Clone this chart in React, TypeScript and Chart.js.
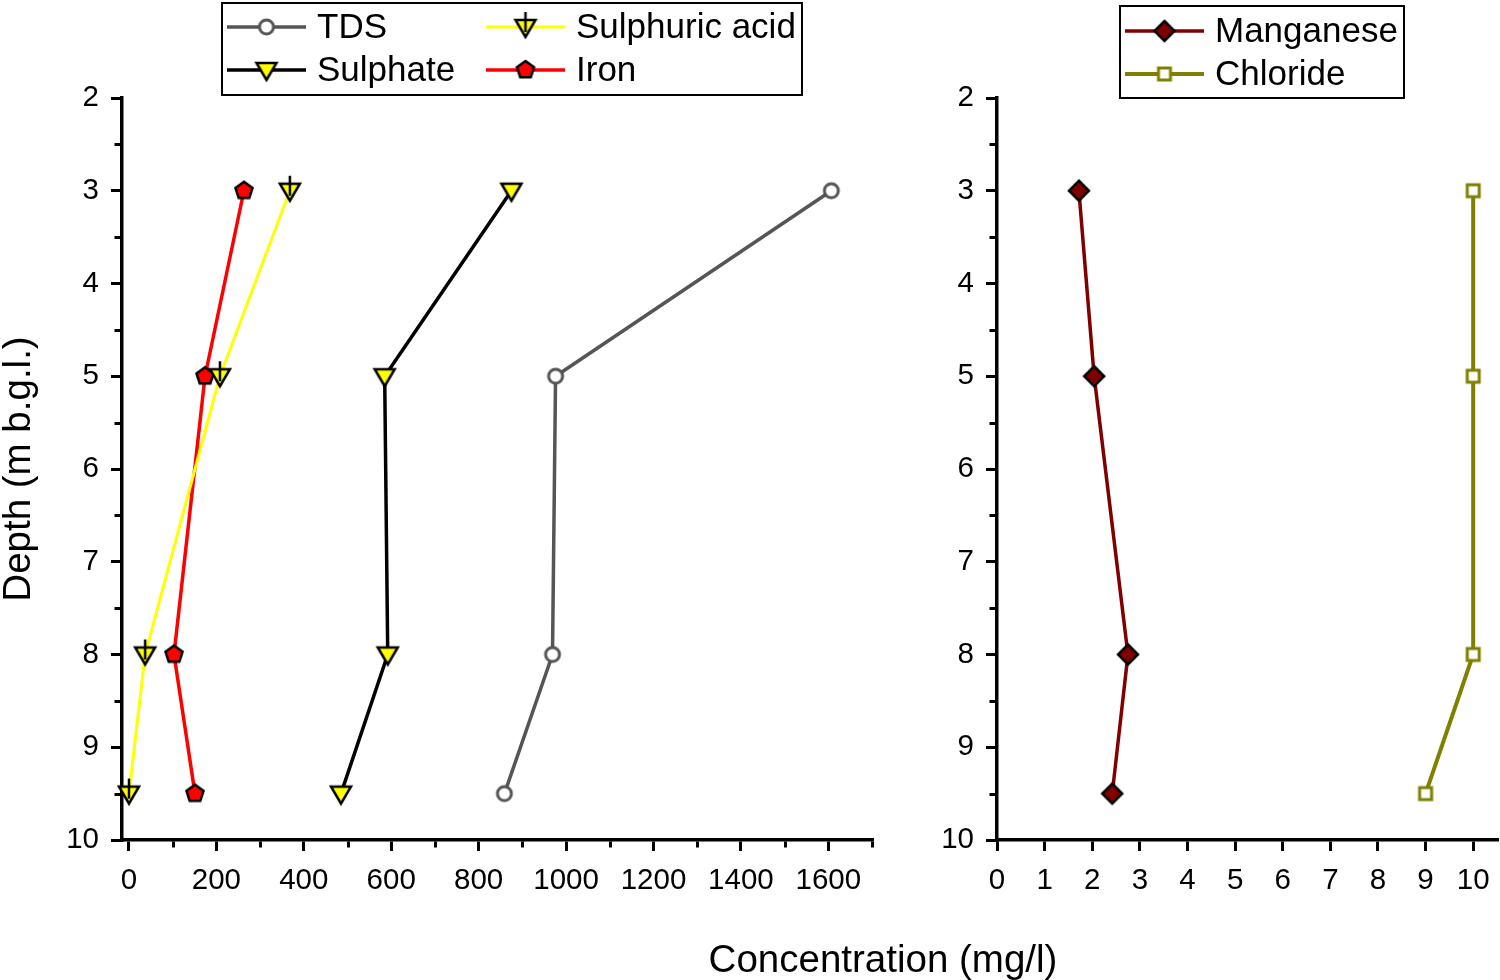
import { useEffect, useRef } from 'react';
import Chart from 'chart.js/auto';

const FONT = '"Liberation Sans", Arial, Helvetica, sans-serif';
Chart.defaults.font.family = FONT;
Chart.defaults.color = '#000';

// sample depths (m b.g.l.), shared by every series
const depths = [3, 5, 8, 9.5];

// left panel (mg/l)
const tds = [1607, 976, 969, 859];
const sulphate = [875, 585, 592, 485];
const sulphuricAcid = [368, 208, 37, 0];
const iron = [263, 174, 103, 151];

// right panel (mg/l)
const manganese = [1.72, 2.04, 2.75, 2.42];
const chloride = [10, 10, 10, 9];

// axis ticks
const depthTicks = [2, 3, 4, 5, 6, 7, 8, 9, 10];
const depthMinor = [2.5, 3.5, 4.5, 5.5, 6.5, 7.5, 8.5, 9.5];
const leftTicks = [0, 200, 400, 600, 800, 1000, 1200, 1400, 1600];
const leftMinor = [100, 300, 500, 700, 900, 1100, 1300, 1500, 1700];
const rightTicks = [0, 1, 2, 3, 4, 5, 6, 7, 8, 9, 10];

type Shape = 'circle' | 'triDown' | 'arrowDown' | 'pentagon' | 'diamond' | 'square';

// little offscreen canvases used as point styles and in the legends
function marker(shape: Shape, fill: string, stroke: string, lw: number): HTMLCanvasElement {
  const size = 34;
  const c = document.createElement('canvas');
  c.width = size;
  c.height = size;
  const ctx = c.getContext('2d')!;
  ctx.translate(size / 2, size / 2);
  ctx.fillStyle = fill;
  ctx.strokeStyle = stroke;
  ctx.lineWidth = lw;
  ctx.beginPath();
  if (shape === 'circle') {
    ctx.arc(0, 0, 7, 0, Math.PI * 2);
  } else if (shape === 'triDown' || shape === 'arrowDown') {
    ctx.moveTo(-10, -7);
    ctx.lineTo(10, -7);
    ctx.lineTo(0, 10);
    ctx.closePath();
  } else if (shape === 'pentagon') {
    for (let i = 0; i < 5; i++) {
      const a = -Math.PI / 2 + (i * 2 * Math.PI) / 5;
      ctx.lineTo(9 * Math.cos(a), 9 * Math.sin(a));
    }
    ctx.closePath();
  } else if (shape === 'diamond') {
    ctx.moveTo(0, -10);
    ctx.lineTo(10, 0);
    ctx.lineTo(0, 10);
    ctx.lineTo(-10, 0);
    ctx.closePath();
  } else {
    ctx.rect(-6, -6, 12, 12);
  }
  ctx.fill();
  ctx.stroke();
  if (shape === 'arrowDown') {
    ctx.beginPath();
    ctx.moveTo(0, -15);
    ctx.lineTo(0, 5);
    ctx.stroke();
  }
  return c;
}

interface Series {
  label: string;
  values: number[];
  color: string;
  width: number;
  point: HTMLCanvasElement;
}

interface LegendEntry {
  series: Series;
  x: number;
  y: number;
}

interface LegendBox {
  x: number;
  y: number;
  w: number;
  h: number;
  entries: LegendEntry[];
}

function boxLegend(box: LegendBox) {
  return {
    id: 'boxLegend',
    afterDraw(chart: Chart) {
      const ctx = chart.ctx;
      ctx.save();
      ctx.strokeStyle = '#000';
      ctx.lineWidth = 2;
      ctx.strokeRect(box.x, box.y, box.w, box.h);
      ctx.font = `35px ${FONT}`;
      ctx.textBaseline = 'middle';
      ctx.fillStyle = '#000';
      for (const e of box.entries) {
        ctx.strokeStyle = e.series.color;
        ctx.lineWidth = e.series.width;
        ctx.beginPath();
        ctx.moveTo(e.x, e.y);
        ctx.lineTo(e.x + 79, e.y);
        ctx.stroke();
        const p = e.series.point;
        ctx.drawImage(p, e.x + 39.5 - p.width / 2, e.y - p.height / 2);
        ctx.fillText(e.series.label, e.x + 90, e.y + 1);
      }
      ctx.restore();
    },
  };
}

// Chart.js has no minor ticks, so draw the short ones here
function minorTicks(xMinor: number[], yMinor: number[]) {
  return {
    id: 'minorTicks',
    afterDraw(chart: Chart) {
      const { ctx, chartArea } = chart;
      const xs = chart.scales.x;
      const ys = chart.scales.y;
      ctx.save();
      ctx.strokeStyle = '#000';
      ctx.lineWidth = 3;
      ctx.beginPath();
      for (const v of xMinor) {
        const px = Math.round(xs.getPixelForValue(v)) + 0.5;
        ctx.moveTo(px, chartArea.bottom + 1.5);
        ctx.lineTo(px, chartArea.bottom + 7.5);
      }
      for (const v of yMinor) {
        const py = Math.round(ys.getPixelForValue(v)) + 0.5;
        ctx.moveTo(chartArea.left - 1.5, py);
        ctx.lineTo(chartArea.left - 7.5, py);
      }
      ctx.stroke();
      ctx.restore();
    },
  };
}

interface PanelProps {
  left: number;
  width: number;
  yAxisWidth: number;
  rightPad: number;
  xMin: number;
  xMax: number;
  xTicks: number[];
  xMinor: number[];
  yTitle?: string;
  series: Series[];
  legend: LegendBox;
}

function Panel(props: PanelProps) {
  const canvasRef = useRef<HTMLCanvasElement>(null);

  useEffect(() => {
    const canvas = canvasRef.current;
    if (!canvas) return;
    const p = props;
    const axisGrid = {
      display: true,
      drawOnChartArea: false,
      drawTicks: true,
      tickLength: 11,
      lineWidth: 3,
      color: '#000',
    };
    const axisBorder = { display: true, width: 3.5, color: '#000' };
    const chart = new Chart(canvas, {
      type: 'scatter',
      data: {
        datasets: p.series.map((s) => ({
          label: s.label,
          data: depths.map((d, i) => ({ x: s.values[i], y: d })),
          showLine: true,
          borderColor: s.color,
          backgroundColor: s.color,
          borderWidth: s.width,
          pointStyle: s.point,
          pointRadius: 9,
          pointHoverRadius: 9,
          clip: false,
        })),
      },
      options: {
        animation: false,
        responsive: false,
        events: [],
        layout: {
          autoPadding: false,
          padding: { top: 98, right: p.rightPad, bottom: 80, left: 0 },
        },
        plugins: { legend: { display: false }, tooltip: { enabled: false } },
        scales: {
          x: {
            type: 'linear',
            min: p.xMin,
            max: p.xMax,
            afterBuildTicks: (s: any) => {
              s.ticks = p.xTicks.map((v) => ({ value: v }));
            },
            afterFit: (s: any) => {
              s.height = 60;
              s.paddingLeft = 0;
              s.paddingRight = 0;
            },
            grid: axisGrid,
            border: axisBorder,
            ticks: {
              font: { size: 29.5 },
              color: '#000',
              padding: 12,
              maxRotation: 0,
              autoSkip: false,
              callback: (v: any) => String(v),
            },
          },
          y: {
            type: 'linear',
            reverse: true,
            min: 2,
            max: 10,
            afterBuildTicks: (s: any) => {
              s.ticks = depthTicks.map((v) => ({ value: v }));
            },
            afterFit: (s: any) => {
              s.width = p.yAxisWidth;
            },
            grid: axisGrid,
            border: axisBorder,
            title: p.yTitle
              ? {
                  display: true,
                  text: p.yTitle,
                  font: { size: 38.5, lineHeight: 1 },
                  color: '#000',
                  padding: 0,
                }
              : { display: false },
            ticks: {
              font: { size: 29.5 },
              color: '#000',
              padding: 12,
              autoSkip: false,
              callback: (v: any) => String(v),
            },
          },
        },
      },
      plugins: [minorTicks(p.xMinor, depthMinor), boxLegend(p.legend)],
    } as any);
    return () => chart.destroy();
    // eslint-disable-next-line react-hooks/exhaustive-deps
  }, []);

  return (
    <canvas
      ref={canvasRef}
      width={props.width}
      height={980}
      style={{ position: 'absolute', left: props.left, top: 0 }}
    />
  );
}

const tdsSeries: Series = { label: 'TDS', values: tds, color: '#555555', width: 3.5, point: marker('circle', '#fff', '#555555', 3) };
const sulphateSeries: Series = { label: 'Sulphate', values: sulphate, color: '#000', width: 3.5, point: marker('triDown', '#ffff00', '#000', 2.5) };
const acidSeries: Series = { label: 'Sulphuric acid', values: sulphuricAcid, color: '#ffff00', width: 3, point: marker('arrowDown', '#ffff00', '#000', 2.5) };
const ironSeries: Series = { label: 'Iron', values: iron, color: '#ff0000', width: 3.5, point: marker('pentagon', '#ff0000', '#000', 2.5) };
const mnSeries: Series = { label: 'Manganese', values: manganese, color: '#800000', width: 3.5, point: marker('diamond', '#800000', '#000', 2.5) };
const clSeries: Series = { label: 'Chloride', values: chloride, color: '#808000', width: 4, point: marker('square', '#fff', '#808000', 3) };

export default function App() {
  return (
    <div style={{ position: 'absolute', left: 0, top: 0, width: 1500, height: 980, background: '#fff', overflow: 'hidden' }}>
      <Panel
        left={0}
        width={900}
        yAxisWidth={122}
        rightPad={28}
        xMin={-16}
        xMax={1700}
        xTicks={leftTicks}
        xMinor={leftMinor}
        yTitle="Depth (m b.g.l.)"
        series={[tdsSeries, sulphateSeries, acidSeries, ironSeries]}
        legend={{
          x: 222,
          y: 3,
          w: 580,
          h: 92,
          entries: [
            { series: tdsSeries, x: 227, y: 27 },
            { series: acidSeries, x: 486, y: 27 },
            { series: sulphateSeries, x: 227, y: 70 },
            { series: ironSeries, x: 486, y: 70 },
          ],
        }}
      />
      <Panel
        left={900}
        width={600}
        yAxisWidth={97}
        rightPad={3}
        xMin={0}
        xMax={10.5}
        xTicks={rightTicks}
        xMinor={[]}
        series={[mnSeries, clSeries]}
        legend={{
          x: 220,
          y: 6,
          w: 284,
          h: 92,
          entries: [
            { series: mnSeries, x: 225, y: 31 },
            { series: clSeries, x: 225, y: 74 },
          ],
        }}
      />
      <div
        style={{
          position: 'absolute',
          left: 883,
          top: 939,
          transform: 'translateX(-50%)',
          font: `38.5px ${FONT}`,
          lineHeight: '40px',
          whiteSpace: 'nowrap',
          color: '#000',
        }}
      >
        Concentration (mg/l)
      </div>
    </div>
  );
}
